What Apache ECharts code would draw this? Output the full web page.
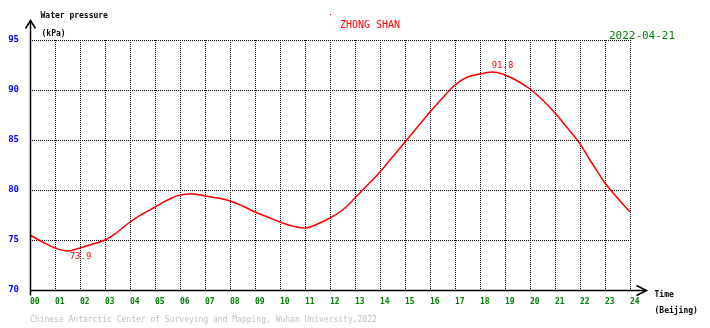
<!DOCTYPE html>
<html>
<head>
<meta charset="utf-8">
<script src="https://cdn.jsdelivr.net/npm/echarts@6/dist/echarts.min.js"></script>
<style>
html,body{margin:0;padding:0;background:#fff;}
#c{width:710px;height:328px;}
</style>
</head>
<body>
<div id="c"></div>
<script>
// ---- data ----
var stationName = 'ZHONG SHAN';
var dateText = '2022-04-21';
var hours = [0,0.5,1,1.5,2,2.5,3,3.5,4,4.5,5,5.5,6,6.5,7,7.5,8,8.5,9,9.5,10,10.5,11,11.5,12,
             12.5,13,13.5,14,14.5,15,15.5,16,16.5,17,17.5,18,18.5,19,19.5,20,20.5,21,21.5,22,22.5,23,23.5,24];
var pressure = [75.5,74.8,74.2,73.9,74.2,74.6,75.0,75.8,76.8,77.6,78.3,79.0,79.5,79.6,79.4,79.2,78.9,78.4,77.8,77.3,76.8,76.4,76.2,76.6,77.2,
                78.0,79.2,80.5,81.8,83.3,84.8,86.3,87.8,89.2,90.5,91.3,91.6,91.8,91.5,90.9,90.1,89.0,87.7,86.2,84.6,82.6,80.7,79.2,77.8];
var xTickLabels = ['00','01','02','03','04','05','06','07','08','09','10','11','12','13','14','15','16','17','18','19','20','21','22','23','24'];
var yMin = 70, yMax = 95, yStep = 5;
var yName = 'Water pressure', yUnit = '(kPa)';
var xName = 'Time', xUnit = '(Beijing)';
var footer = 'Chinese Antarctic Center of Surveying and Mapping, Wuhan University,2022';

var FONT = '"DejaVu Sans Mono", "Liberation Mono", monospace';

var minI = 0, maxI = 0;
for (var i = 1; i < pressure.length; i++) {
  if (pressure[i] < pressure[minI]) minI = i;
  if (pressure[i] > pressure[maxI]) maxI = i;
}
var seriesData = hours.map(function (h, i) { return [h, pressure[i]]; });

var chart = echarts.init(document.getElementById('c'), null, { renderer: 'canvas' });
var dotted = { color: '#000', width: 1, type: [1, 1] };
chart.setOption({
  backgroundColor: '#ffffff',
  animation: false,
  grid: { left: 30, top: 40, width: 600, height: 250, containLabel: false },
  xAxis: {
    type: 'value', min: 0, max: 24, interval: 1,
    axisLine: { show: false },
    axisTick: { show: false },
    splitLine: { show: true, lineStyle: dotted },
    axisLabel: {
      margin: 8, align: 'left', color: '#008000', fontFamily: FONT, fontSize: 8, fontWeight: 'bold',
      formatter: function (v) { return xTickLabels[Math.round(v)] || ''; }
    }
  },
  yAxis: {
    type: 'value', min: yMin, max: yMax, interval: yStep,
    axisLine: { show: false },
    axisTick: { show: false },
    splitLine: { show: true, lineStyle: dotted },
    axisLabel: { margin: 11, color: '#0000ff', fontFamily: FONT, fontSize: 9, fontWeight: 'bold', padding: [0, 0, 5, 0] }
  },
  series: [{
    type: 'line', data: seriesData, showSymbol: false, smooth: 0.4,
    lineStyle: { color: '#ff0000', width: 1.5 },
    itemStyle: { color: '#ff0000' },
    markPoint: {
      symbol: 'circle', symbolSize: 1, silent: true,
      itemStyle: { color: 'rgba(0,0,0,0)' },
      data: [
        { coord: [hours[maxI], pressure[maxI]], value: pressure[maxI].toFixed(1),
          label: { show: true, position: 'top', distance: 1, offset: [10, 0], color: '#ff0000', fontFamily: FONT, fontSize: 9 } },
        { coord: [hours[minI], pressure[minI]], value: pressure[minI].toFixed(1),
          label: { show: true, position: 'bottom', distance: 1, offset: [13, 0], color: '#ff0000', fontFamily: FONT, fontSize: 9 } }
      ]
    }
  }]
});

var p0 = chart.convertToPixel({ gridIndex: 0 }, [0, yMin]);
var pTop = chart.convertToPixel({ gridIndex: 0 }, [0, yMax]);
var pEnd = chart.convertToPixel({ gridIndex: 0 }, [24, yMin]);
var ox = Math.round(p0[0]) + 0.5, oy = Math.round(p0[1]) + 0.5;
var topY = Math.round(pTop[1]) - 20 + 0.5;
var endX = Math.round(pEnd[0]) + 16 + 0.5;
var axStyle = { stroke: '#000', lineWidth: 1.5, fill: null };
function txt(x, y, s, color, size, weight, align) {
  return { type: 'text', x: x, y: y, silent: true,
    style: { text: s, fill: color, font: (weight || 'normal') + ' ' + size + 'px ' + FONT, textAlign: align || 'left', textVerticalAlign: 'middle' } };
}
chart.setOption({
  graphic: [
    { type: 'polyline', shape: { points: [[ox, oy + 5], [ox, topY]] }, style: axStyle, z: 10 },
    { type: 'polyline', shape: { points: [[ox - 5, topY + 8], [ox, topY], [ox + 5, topY + 8]] }, style: axStyle, z: 10 },
    { type: 'polyline', shape: { points: [[ox, oy], [endX, oy]] }, style: axStyle, z: 10 },
    { type: 'polyline', shape: { points: [[endX - 10, oy - 5], [endX, oy], [endX - 10, oy + 5]] }, style: axStyle, z: 10 },
    txt(ox + 10, 16, yName, '#000', 8, 'bold'),
    txt(ox + 11, 34, yUnit, '#000', 8, 'bold'),
    txt(endX + 8, oy + 4, xName, '#000', 8, 'bold'),
    txt(endX + 8, oy + 20, xUnit, '#000', 8, 'bold'),
    txt(370, 25, stationName, '#ff0000', 10, 'normal', 'center'),
    txt(642, 36, dateText, '#008000', 11, 'normal', 'center'),
    txt(30, 320, footer, '#c0c0c0', 8, 'normal'),
    { type: 'rect', shape: { x: 330, y: 14, width: 1, height: 1 }, style: { fill: '#ff0000' } }
  ]
});
</script>
</body>
</html>
